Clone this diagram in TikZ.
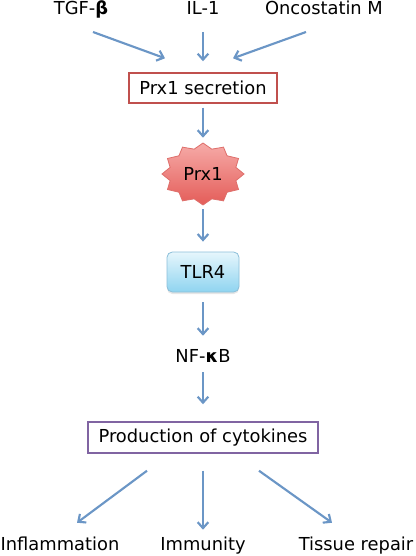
\documentclass[tikz,border=0pt]{standalone}
\usepackage{fontspec}
\setmainfont{DejaVu Sans}
\usepackage{tikz}
\usetikzlibrary{arrows.meta,calc,backgrounds,shadows,shapes.geometric}
\definecolor{fleuve}{HTML}{6B96C6}
\definecolor{rouge}{HTML}{C0504D}
\definecolor{violet}{HTML}{8064A2}
\definecolor{rosehaut}{HTML}{F6ABA8}
\definecolor{rosebas}{HTML}{E45C58}
\definecolor{rosebord}{HTML}{DE6E6A}
\definecolor{cielhaut}{HTML}{E6F6FC}
\definecolor{cielbas}{HTML}{8FD4F0}
\definecolor{cielbord}{HTML}{8CBFD9}
\tikzset{
  texte/.style={font=\fontsize{13.4}{16}\selectfont,inner sep=0pt,text height=0.73em,text depth=0pt,anchor=south},
  boite/.style={draw,line width=1.1pt,font=\fontsize{13.4}{16}\selectfont,inner sep=0pt,align=center},
  fleche/.style={-{Straight Barb[length=4.5pt,width=8pt]},line width=1.6pt,color=fleuve},
}
\begin{document}
\begin{tikzpicture}[x=0.75pt,y=-0.75pt,
  sceau/.style={draw=rosebord,line width=0.6pt,top color=rosehaut,bottom color=rosebas},
  recepteur/.style={boite,draw=cielbord,line width=0.6pt,rounded corners=4pt,top color=cielhaut,bottom color=cielbas,
                    drop shadow={opacity=0.2,shadow xshift=0pt,shadow yshift=-1.5pt}}]
  \useasboundingbox (0,0) rectangle (416,556);
  % inducers
  \node[texte] (tgf) at (81,15) {TGF-{\bfseries β}};
  \node[texte] (il)  at (203,15) {IL-1};
  \node[texte] (onc) at (324,15) {Oncostatin M};
  % main chain
  \node[boite,draw=rouge,minimum width=111pt,minimum height=22.5pt] (sec) at (203,88) {Prx1 secretion};
  \node[ellipse,inner sep=0pt,minimum width=61.5pt,minimum height=46.5pt,font=\fontsize{13.4}{16}\selectfont] (prx) at (203,174) {Prx1};
  \begin{scope}[on background layer,shift={(prx.center)}]
    \draw[sceau] plot[samples at={0,15,...,345},variable=\t]
      ({41*(1-0.17*mod(\t/15,2))*cos(\t)},{31*(1-0.17*mod(\t/15,2))*sin(\t)}) -- cycle;
  \end{scope}
  \node[recepteur,minimum width=54pt,minimum height=30pt] (tlr) at (203,272) {TLR4};
  \node[texte] (nf) at (203,363) {NF-{\bfseries κ}B};
  \node[boite,draw=violet,minimum width=172.5pt,minimum height=23.25pt] (prod) at (203,437.5) {Production of cytokines};
  % outcomes
  \node[texte] (infl) at (60,551) {Inflammation};
  \node[texte] (imm)  at (203,551) {Immunity};
  \node[texte] (tis)  at (356,551) {Tissue repair};
  % arrows
  \draw[fleche] ([xshift=9pt,yshift=-12.75pt]tgf.south) -- ([xshift=-28.5pt,yshift=10.5pt]sec.north);
  \draw[fleche] ([yshift=-12.75pt]il.south) -- ([yshift=8.25pt]sec.north);
  \draw[fleche] ([xshift=-13.5pt,yshift=-12.75pt]onc.south) -- ([xshift=22.5pt,yshift=10.5pt]sec.north);
  \draw[fleche] ([yshift=-3pt]sec.south) -- ([yshift=3.75pt]prx.north);
  \draw[fleche] ([yshift=-3pt]prx.south) -- ([yshift=7.5pt]tlr.north);
  \draw[fleche] ([yshift=-7.5pt]tlr.south) -- ([yshift=12.75pt]nf.north);
  \draw[fleche] ([yshift=-6.75pt]nf.south) -- ([yshift=12.75pt]prod.north);
  \draw[fleche] ([xshift=-42pt,yshift=-12.75pt]prod.south) -- ([xshift=12.75pt,yshift=13.5pt]infl.north);
  \draw[fleche] ([yshift=-12.75pt]prod.south) -- ([yshift=8.25pt]imm.north);
  \draw[fleche] ([xshift=42pt,yshift=-12.75pt]prod.south) -- ([xshift=-18pt,yshift=13.5pt]tis.north);
\end{tikzpicture}
\end{document}
